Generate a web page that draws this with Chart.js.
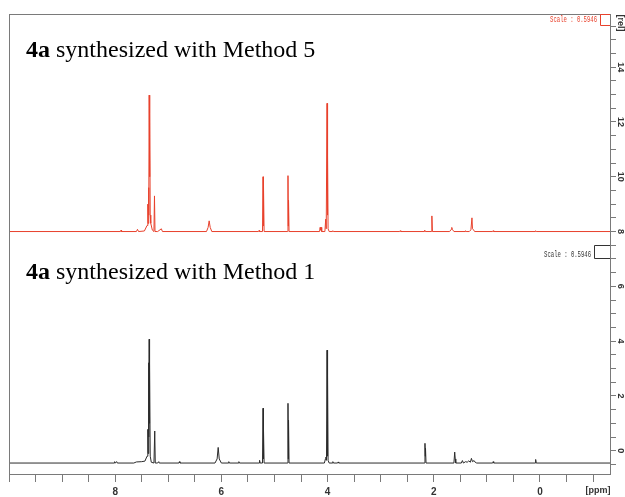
<!DOCTYPE html>
<html>
<head>
<meta charset="utf-8">
<script src="https://cdn.jsdelivr.net/npm/chart.js@4.4.1/dist/chart.umd.min.js"></script>
<style>
  html, body { margin: 0; padding: 0; background: #fff; }
  #wrap { width: 625px; height: 497px; }
</style>
</head>
<body>
<div id="wrap"><canvas id="nmr" width="625" height="497"></canvas></div>
<script>
// top spectrum (Method 5), offset so its baseline sits on 8
var redPpm = [10.0, 7.90, 7.89, 7.88, 7.60, 7.58, 7.56, 7.45, 7.40, 7.385, 7.38, 7.37, 7.365, 7.36, 7.355, 7.345, 7.34, 7.33, 7.30, 7.27, 7.26, 7.25, 7.20, 7.13, 7.11,
    6.28, 6.25, 6.23, 6.21, 6.18, 5.30, 5.29, 5.28, 5.225, 5.215, 5.21, 5.205, 5.195, 4.755, 4.745, 4.74, 4.735, 4.725,
    4.15, 4.14, 4.13, 4.12, 4.11, 4.05, 4.035, 4.025, 4.01, 4.005, 3.995, 3.99, 3.97, 3.91, 3.90, 3.89,
    2.64, 2.63, 2.62, 2.18, 2.17, 2.16, 2.045, 2.035, 2.025, 1.70, 1.67, 1.66, 1.65, 1.62, 1.41, 1.40, 1.39,
    1.33, 1.30, 1.28, 1.27, 1.25, 1.23, 0.89, 0.88, 0.87, 0.09, 0.08, 0.07, -1.32];
var redRel = [8, 8, 8.05, 8, 8, 8.08, 8, 8.02, 8.22, 9.0, 8.3, 9.6, 8.6, 12.98, 10.0, 12.3, 8.6, 8.3, 8.05, 8, 9.3, 8, 8, 8.1, 8,
    8, 8.15, 8.39, 8.15, 8, 8, 8.04, 8, 8, 10.0, 8.2, 9.82, 8, 8, 10.04, 8.2, 9.15, 8,
    8, 8.15, 8.05, 8.15, 8, 8, 8.45, 8.1, 12.68, 8.6, 10.78, 8.1, 8, 8, 8.03, 8,
    8, 8.03, 8, 8, 8.05, 8, 8, 8.57, 8, 8, 8.08, 8.15, 8.08, 8, 8, 8.03, 8,
    8, 8.06, 8.5, 8.1, 8.06, 8, 8, 8.03, 8, 8, 8.03, 8, 8];

// bottom spectrum (Method 1)
var blackPpm = [10.0, 8.02, 8.01, 8.00, 7.97, 7.96, 7.65, 7.60, 7.50, 7.44, 7.40, 7.385, 7.38, 7.37, 7.365, 7.36, 7.355, 7.35, 7.34, 7.32, 7.27, 7.255, 7.245, 7.20, 7.18, 7.17,
    6.80, 6.79, 6.78, 6.12, 6.08, 6.06, 6.04, 6.00, 5.87, 5.86, 5.85, 5.68, 5.67, 5.66, 5.29, 5.28, 5.27,
    5.225, 5.215, 5.21, 5.205, 5.195, 4.755, 4.745, 4.74, 4.735, 4.725,
    4.06, 4.04, 4.03, 4.02, 4.01, 4.005, 3.995, 3.99, 3.97, 3.91, 3.90, 3.89, 3.81, 3.80, 3.79,
    2.175, 2.165, 2.16, 2.155, 2.145, 1.62, 1.605, 1.595, 1.585,
    1.48, 1.46, 1.44, 1.40, 1.37, 1.34, 1.31, 1.29, 1.27, 1.24, 1.22, 1.19, 0.89, 0.88, 0.87, 0.09, 0.08, 0.07, -1.32];
var blackRel = [-0.45, -0.45, -0.4, -0.45, -0.4, -0.45, -0.45, -0.41, -0.4, -0.38, -0.2, 0.78, -0.1, 3.21, 0.5, 4.07, 1.0, 3.2, -0.2, -0.42, -0.45, 0.72, -0.45, -0.45, -0.4, -0.45,
    -0.45, -0.4, -0.45, -0.45, -0.3, 0.12, -0.3, -0.45, -0.45, -0.4, -0.45, -0.45, -0.4, -0.45, -0.45, -0.35, -0.45,
    -0.45, 1.55, -0.3, 0.88, -0.45, -0.45, 1.73, -0.3, 1.12, -0.45,
    -0.45, -0.3, -0.23, -0.35, 3.67, -0.2, 2.76, -0.35, -0.45, -0.45, -0.4, -0.45, -0.45, -0.41, -0.45,
    -0.45, 0.27, -0.2, 0.09, -0.45, -0.45, -0.05, -0.3, -0.45,
    -0.45, -0.36, -0.45, -0.4, -0.42, -0.37, -0.42, -0.28, -0.4, -0.36, -0.42, -0.45, -0.45, -0.4, -0.45, -0.45, -0.32, -0.45, -0.45];

var xLabels = [8, 6, 4, 2, 0];
var yLabels = [0, 2, 4, 6, 8, 10, 12, 14];
var titles = ['synthesized with Method 5', 'synthesized with Method 1'];
var scaleText = 'Scale : 0.5946';

var toPoints = function (xs, ys) {
    return xs.map(function (x, i) { return { x: x, y: ys[i] }; });
};

var frameGray = '#7a7a7a';

var extras = {
    id: 'extras',
    afterDraw: function (chart) {
        var ctx = chart.ctx;
        var a = chart.chartArea;
        var ys = chart.scales.y;
        ctx.save();
        // frame
        ctx.strokeStyle = frameGray;
        ctx.lineWidth = 1;
        ctx.strokeRect(a.left + 0.5, a.top + 0.5, a.right - a.left, a.bottom - a.top);

        // titles
        var tY = [57, 279];
        for (var i = 0; i < titles.length; i++) {
            ctx.fillStyle = '#000';
            ctx.textBaseline = 'alphabetic';
            ctx.textAlign = 'left';
            ctx.font = 'bold 24px "Liberation Serif"';
            ctx.fillText('4a', 26, tY[i]);
            var w = ctx.measureText('4a ').width;
            ctx.font = '24px "Liberation Serif"';
            ctx.fillText(titles[i], 26 + w, tY[i]);
        }

        // scale labels and brackets
        var sc = [{ c: '#e8412c', ty: 20, top: a.top, bot: 25, left: 600 }, { c: '#333', ty: 255, top: 245, bot: 258, left: 594 }];
        sc.forEach(function (s) {
            ctx.save();
            ctx.fillStyle = s.c;
            ctx.font = '9px "Liberation Mono"';
            ctx.textAlign = 'right';
            ctx.textBaseline = 'middle';
            ctx.translate(s.left - 3, s.ty);
            ctx.scale(0.62, 1);
            ctx.fillText(scaleText, 0, 0);
            ctx.restore();
            ctx.strokeStyle = s.c;
            ctx.beginPath();
            ctx.moveTo(a.right, s.top + 0.5);
            ctx.lineTo(s.left + 0.5, s.top + 0.5);
            ctx.lineTo(s.left + 0.5, s.bot + 0.5);
            ctx.lineTo(a.right, s.bot + 0.5);
            ctx.stroke();
        });

        // rotated y labels
        ctx.fillStyle = '#333';
        ctx.font = 'bold 9px "Liberation Sans"';
        ctx.textAlign = 'center';
        ctx.textBaseline = 'middle';
        yLabels.forEach(function (v) {
            var py = ys.getPixelForValue(v);
            ctx.save();
            ctx.translate(620, py);
            ctx.rotate(Math.PI / 2);
            ctx.fillText(String(v), 0, 0);
            ctx.restore();
        });
        ctx.save();
        ctx.translate(620, 23);
        ctx.rotate(Math.PI / 2);
        ctx.fillText('[rel]', 0, 0);
        ctx.restore();

        ctx.textAlign = 'center';
        ctx.fillText('[ppm]', 598, 491);
        ctx.restore();
    }
};

var chart = new Chart(document.getElementById('nmr'), {
    type: 'line',
    data: {
        datasets: [{
            label: 'Method 5',
            data: toPoints(redPpm, redRel),
            borderColor: '#e8412c',
            borderWidth: 1,
            pointRadius: 0,
            tension: 0,
        }, {
            label: 'Method 1',
            data: toPoints(blackPpm, blackRel),
            borderColor: '#2b2b2b',
            borderWidth: 1,
            pointRadius: 0,
            tension: 0,
        }],
    },
    options: {
        responsive: false,
        animation: false,
        events: [],
        layout: { padding: { left: 9, top: 14, right: 0, bottom: 0 } },
        plugins: {
            legend: { display: false },
            tooltip: { enabled: false },
        },
        scales: {
            x: {
                type: 'linear',
                reverse: true,
                min: -1.32,
                max: 10.0,
                afterFit: function (s) { s.height = 23; },
                border: { display: true, color: frameGray },
                grid: { display: true, drawOnChartArea: false, drawTicks: true, tickLength: 8, color: frameGray },
                ticks: {
                    stepSize: 0.5,
                    includeBounds: false,
                    autoSkip: false,
                    maxTicksLimit: 100,
                    maxRotation: 0,
                    padding: 4,
                    color: '#333',
                    font: { family: 'Liberation Sans', size: 10, weight: 'bold' },
                    callback: function (v) {
                        var r = Math.round(v);
                        return Math.abs(v - r) < 1e-6 && xLabels.indexOf(r) >= 0 ? String(r) : '';
                    },
                },
            },
            y: {
                type: 'linear',
                position: 'right',
                min: -0.85,
                max: 15.94,
                afterFit: function (s) { s.width = 15; },
                border: { display: true, color: frameGray },
                grid: { display: true, drawOnChartArea: false, drawTicks: true, tickLength: 6, color: frameGray },
                ticks: {
                    display: false,
                    stepSize: 0.5,
                    includeBounds: false,
                    maxTicksLimit: 100,
                },
            },
        },
    },
    plugins: [extras],
});
</script>
</body>
</html>
